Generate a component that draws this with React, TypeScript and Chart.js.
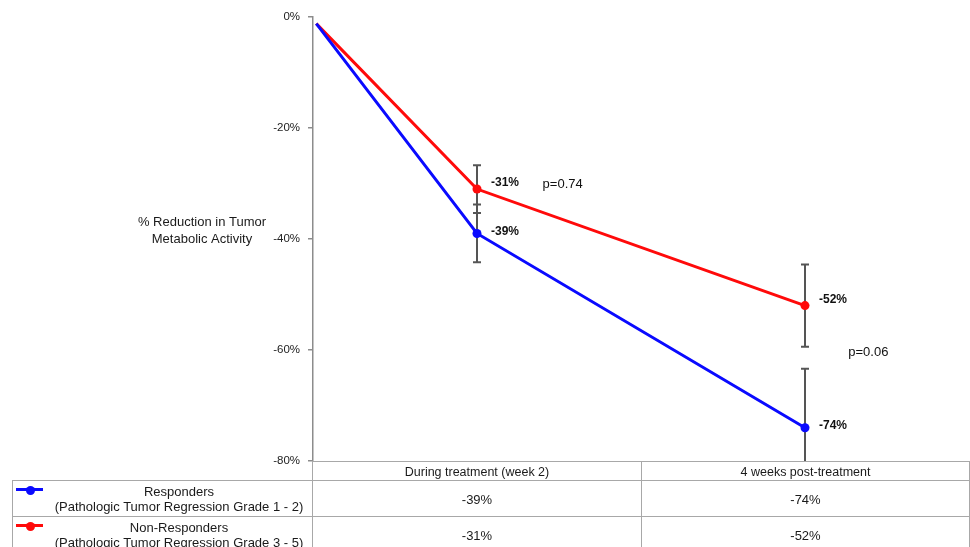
import React, { useEffect, useRef } from "react";
import { Chart, registerables } from "chart.js";

Chart.register(...registerables);

// ---- data ----
const categories = ["During treatment (week 2)", "4 weeks post-treatment"];
const seriesNames = ["Responders", "Non-Responders"];
const seriesSubtitles = [
  "(Pathologic Tumor Regression Grade 1 - 2)",
  "(Pathologic Tumor Regression Grade 3 - 5)",
];
const baselineValue = -1.2;
const responders = [-39, -74];
const nonResponders = [-31, -52];
const respondersErr = [5.2, 10.6];
const nonRespondersErr = [4.3, 7.4];
const xPositions = [0.01, 0.5, 1.5]; // baseline, then category centres
const yTickValues = [0, -20, -40, -60, -80];
const pValueTexts = ["p=0.74", "p=0.06"];
const pValueAnchors = [
  { x: 0.7, y: -30.2 },
  { x: 1.632, y: -60.5 },
];
const yTitleLines = ["% Reduction in Tumor", "Metabolic Activity"];

const seriesColors = ["#0a0aff", "#ff0a0a"];
const seriesValues = [responders, nonResponders];
const seriesErrors = [respondersErr, nonRespondersErr];

const FONT = "'Liberation Sans', Arial, sans-serif";

const errorBarPlugin = {
  id: "errorBars",
  beforeDatasetsDraw(chart: any) {
    const { ctx, chartArea, scales } = chart;
    ctx.save();
    ctx.beginPath();
    ctx.rect(chartArea.left, chartArea.top - 2, chartArea.right - chartArea.left, chartArea.bottom - chartArea.top + 2);
    ctx.clip();
    ctx.strokeStyle = "#555555";
    ctx.lineWidth = 2;
    chart.data.datasets.forEach((ds: any, di: number) => {
      const errs = seriesErrors[di];
      ds.data.forEach((pt: any, i: number) => {
        if (i === 0) return;
        const e = errs[i - 1];
        const x = scales.x.getPixelForValue(pt.x);
        const yTop = scales.y.getPixelForValue(pt.y + e);
        const yBot = scales.y.getPixelForValue(pt.y - e);
        ctx.beginPath();
        ctx.moveTo(x, yTop);
        ctx.lineTo(x, yBot);
        ctx.moveTo(x - 4, yTop);
        ctx.lineTo(x + 4, yTop);
        ctx.moveTo(x - 4, yBot);
        ctx.lineTo(x + 4, yBot);
        ctx.stroke();
      });
    });
    ctx.restore();
  },
};

const labelPlugin = {
  id: "valueLabels",
  afterDatasetsDraw(chart: any) {
    const { ctx, scales } = chart;
    ctx.save();
    ctx.textBaseline = "middle";
    ctx.textAlign = "left";
    ctx.fillStyle = "#111111";
    ctx.font = `bold 12px ${FONT}`;
    chart.data.datasets.forEach((ds: any, di: number) => {
      ds.data.forEach((pt: any, i: number) => {
        if (i === 0) return;
        const x = scales.x.getPixelForValue(pt.x);
        const y = scales.y.getPixelForValue(pt.y);
        const dy = di === 1 ? -6 : -2;
        ctx.fillText(`${pt.y}%`, x + 14, y + dy);
      });
    });
    ctx.font = `13px ${FONT}`;
    pValueTexts.forEach((t, i) => {
      const a = pValueAnchors[i];
      ctx.fillText(t, scales.x.getPixelForValue(a.x), scales.y.getPixelForValue(a.y));
    });
    // y axis title (horizontal)
    ctx.textAlign = "center";
    ctx.font = `13px ${FONT}`;
    ctx.fillStyle = "#1a1a1a";
    const midY = scales.y.getPixelForValue(-38.5);
    yTitleLines.forEach((line, i) => {
      ctx.fillText(line, 202, midY + (i - 0.5) * 17);
    });
    ctx.restore();
  },
};

const BORDER = "1px solid #a8a8a8";

export default function App() {
  const ref = useRef<HTMLCanvasElement | null>(null);

  useEffect(() => {
    if (!ref.current) return;
    const datasets = seriesNames.map((name, si) => ({
      label: name,
      data: [baselineValue, ...seriesValues[si]].map((v, i) => ({ x: xPositions[i], y: v })),
      borderColor: seriesColors[si],
      backgroundColor: seriesColors[si],
      borderWidth: 3,
      pointRadius: [0, 4.5, 4.5],
      pointHoverRadius: [0, 4.5, 4.5],
      pointBorderWidth: 0,
      tension: 0,
    }));
    const chart = new Chart(ref.current, {
      type: "line",
      data: { datasets },
      options: {
        animation: false,
        responsive: false,
        maintainAspectRatio: false,
        layout: { autoPadding: false, padding: { top: 17, bottom: 86, right: 1, left: 0 } },
        plugins: { legend: { display: false }, tooltip: { enabled: false } },
        scales: {
          x: { type: "linear", min: 0, max: 2, display: false },
          y: {
            min: -80,
            max: 0,
            afterFit(scale: any) {
              scale.width = 313;
            },
            afterBuildTicks(scale: any) {
              scale.ticks = yTickValues.map((v) => ({ value: v }));
            },
            ticks: {
              callback: (v: any) => `${v}%`,
              font: { size: 11.5, family: FONT },
              color: "#222222",
              padding: 8,
            },
            grid: {
              drawOnChartArea: false,
              drawTicks: true,
              tickLength: 5,
              color: "#8c8c8c",
              lineWidth: 1.5,
            },
            border: { display: true, color: "#8c8c8c", width: 1.5 },
          },
        },
      },
      plugins: [errorBarPlugin, labelPlugin],
    } as any);
    return () => chart.destroy();
  }, []);

  const cellText: React.CSSProperties = {
    position: "absolute",
    boxSizing: "border-box",
    display: "flex",
    alignItems: "center",
    justifyContent: "center",
    fontFamily: FONT,
    fontSize: 13,
    color: "#1a1a1a",
    borderTop: BORDER,
    borderLeft: BORDER,
  };
  const colLeft = [312, 641];
  const colWidth = [329, 329];
  const headerTop = 461;
  const headerH = 19;
  const rowH = 36;

  return (
    <div
      style={{
        position: "absolute",
        left: 0,
        top: 0,
        width: 970,
        height: 547,
        overflow: "hidden",
        background: "#ffffff",
      }}
    >
      <canvas ref={ref} width={970} height={547} style={{ display: "block" }} />
      {categories.map((c, i) => (
        <div
          key={"h" + i}
          style={{
            ...cellText,
            left: colLeft[i],
            top: headerTop,
            width: colWidth[i],
            height: headerH + 1,
            borderRight: i === categories.length - 1 ? BORDER : undefined,
            fontSize: 12.5,
          }}
        >
          {c}
        </div>
      ))}
      {seriesNames.map((name, r) => {
        const top = headerTop + headerH + r * rowH;
        return (
          <React.Fragment key={"r" + r}>
            <div
              style={{
                ...cellText,
                left: 12,
                top,
                width: 300,
                height: rowH + 1,
                display: "block",
              }}
            >
              <div
                style={{
                  position: "absolute",
                  left: 3,
                  top: 7,
                  width: 27,
                  height: 3,
                  background: seriesColors[r],
                }}
              />
              <div
                style={{
                  position: "absolute",
                  left: 12.5,
                  top: 4.5,
                  width: 9,
                  height: 9,
                  borderRadius: "50%",
                  background: seriesColors[r],
                }}
              />
              <div
                style={{
                  position: "absolute",
                  left: 33,
                  top: 3,
                  width: 266,
                  textAlign: "center",
                  lineHeight: "15px",
                }}
              >
                <div>{name}</div>
                <div>{seriesSubtitles[r]}</div>
              </div>
            </div>
            {seriesValues[r].map((v, i) => (
              <div
                key={"v" + r + i}
                style={{
                  ...cellText,
                  left: colLeft[i],
                  top,
                  width: colWidth[i],
                  height: rowH + 1,
                  borderRight: i === categories.length - 1 ? BORDER : undefined,
                }}
              >
                {`${v}%`}
              </div>
            ))}
          </React.Fragment>
        );
      })}
    </div>
  );
}
